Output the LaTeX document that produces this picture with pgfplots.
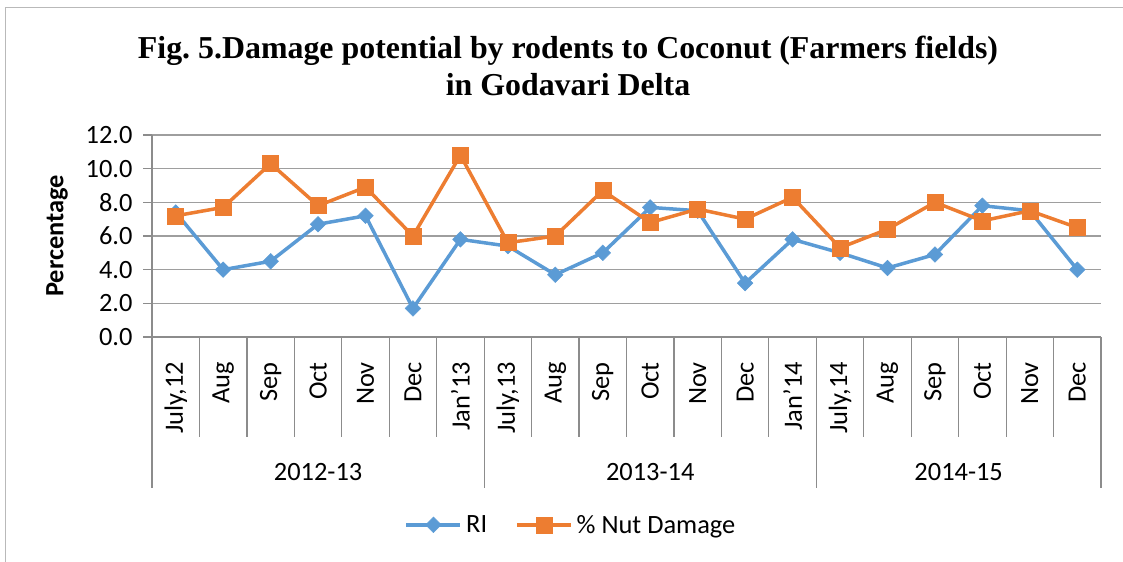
\documentclass[border=0pt]{standalone}
\usepackage{pgfplots}
\pgfplotsset{compat=1.18}
\usepackage{fontspec}
\setmainfont{Carlito}
\newfontfamily\titlefont{Liberation Serif}
\definecolor{riblue}{HTML}{5B9BD5}
\definecolor{nutorange}{HTML}{ED7D31}
\definecolor{gridgray}{HTML}{9E9E9E}
\definecolor{axisgray}{HTML}{8C8C8C}
\newcommand\lbl{\fontsize{26.5}{31}\selectfont}
\frenchspacing
\begin{document}
\begin{tikzpicture}[x=1bp,y=1bp]
\path[use as bounding box] (0,0) rectangle (1123,-562);
\draw[gray!55, line width=1bp] (5.5,-562) -- (5.5,-8) -- (1123,-8);
\node[font=\titlefont\bfseries\fontsize{32}{38}\selectfont, align=center] at (568,-66)
  {Fig. 5.Damage potential by rodents to Coconut (Farmers fields)\\in Godavari Delta};
\begin{axis}[
  at={(152bp,-337bp)}, anchor=south west,
  scale only axis, width=949bp, height=202bp,
  xmin=-0.5, xmax=19.5, ymin=0, ymax=12,
  clip=false,
  axis x line*=bottom, axis y line*=left,
  axis line style={axisgray, line width=1.2bp, -},
  ytick={0,2,...,12},
  ymajorgrids, grid style={gridgray, line width=1.2bp},
  tick align=outside, major tick length=9bp,
  ytick style={axisgray, line width=1.2bp},
  /pgf/number format/assume math mode=true,
  yticklabel style={font=\lbl, xshift=-7bp, /pgf/number format/fixed, /pgf/number format/fixed zerofill, /pgf/number format/precision=1},
  xtick={0,...,19},
  xticklabels={{July,12},Aug,Sep,Oct,Nov,Dec,Jan’13,{July,13},Aug,Sep,Oct,Nov,Dec,Jan’14,{July,14},Aug,Sep,Oct,Nov,Dec},
  x tick style={draw=none},
  xticklabel style={rotate=90, anchor=east, font=\lbl, inner sep=0pt},
  xticklabel shift=16bp,
  ylabel={\textbf{Percentage}},
  ylabel style={at={(axis description cs:-0.100,0.5)}, anchor=center, font=\lbl},
  legend style={at={(0.4415,-0.93)}, anchor=center, draw=none, fill=none, legend columns=2,
    font=\lbl, inner sep=0pt,
    /tikz/every odd column/.append style={column sep=2bp},
    /tikz/every even column/.append style={column sep=26bp}},
  legend image code/.code={\draw[mark repeat=2, mark phase=2, #1] plot coordinates {(0bp,0bp) (27bp,0bp) (54bp,0bp)};},
]
\addplot[riblue, line width=3.5bp, mark=square*, mark size=5.5bp, mark options={rotate=45, solid, line width=0.5bp}]
  coordinates {(0,7.4)(1,4.0)(2,4.5)(3,6.7)(4,7.2)(5,1.7)(6,5.8)(7,5.4)(8,3.7)(9,5.0)(10,7.7)(11,7.5)(12,3.2)(13,5.8)(14,5.0)(15,4.1)(16,4.9)(17,7.8)(18,7.5)(19,4.0)};
\addlegendentry{RI}
\addplot[nutorange, line width=3.5bp, mark=square*, mark size=8bp, mark options={solid, line width=0.5bp}]
  coordinates {(0,7.2)(1,7.7)(2,10.3)(3,7.8)(4,8.9)(5,6.0)(6,10.8)(7,5.6)(8,6.0)(9,8.7)(10,6.8)(11,7.6)(12,7.0)(13,8.3)(14,5.3)(15,6.4)(16,8.0)(17,6.9)(18,7.5)(19,6.5)};
\addlegendentry{\% Nut Damage}
\pgfplotsinvokeforeach{0.5,1.5,2.5,3.5,4.5,5.5,7.5,8.5,9.5,10.5,11.5,12.5,14.5,15.5,16.5,17.5,18.5}{
  \draw[axisgray, line width=1.2bp] (axis cs:#1,0) -- ([yshift=-100bp]axis cs:#1,0);
}
\pgfplotsinvokeforeach{-0.5,6.5,13.5,19.5}{
  \draw[axisgray, line width=1.2bp] (axis cs:#1,0) -- ([yshift=-151bp]axis cs:#1,0);
}
\node[font=\lbl] at ([yshift=-135bp]axis cs:3,0) {2012-13};
\node[font=\lbl] at ([yshift=-135bp]axis cs:10,0) {2013-14};
\node[font=\lbl] at ([yshift=-135bp]axis cs:16.5,0) {2014-15};
\end{axis}
\end{tikzpicture}
\end{document}
